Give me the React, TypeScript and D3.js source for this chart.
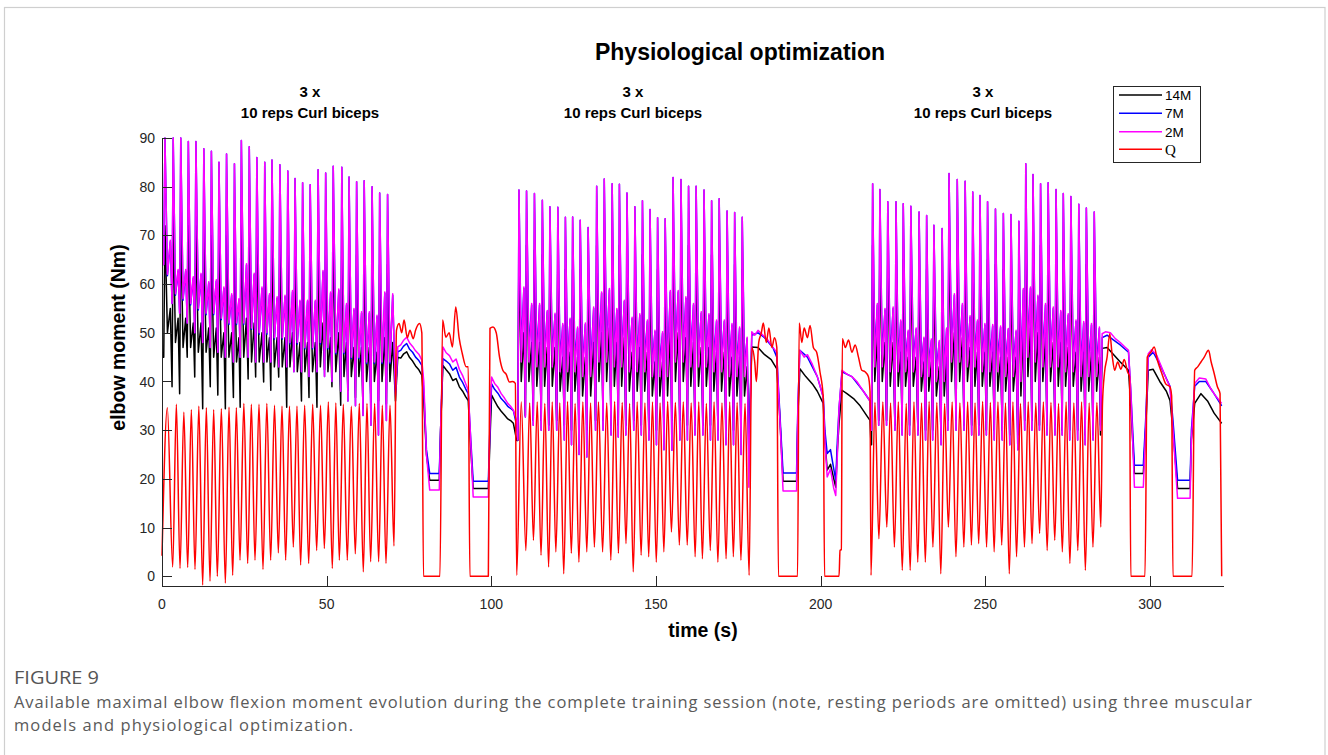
import React from 'react';
import * as d3 from 'd3';

// ---------- axis ticks / labels ----------
const xTicks = [0, 50, 100, 150, 200, 250, 300];
const yTicks = [0, 10, 20, 30, 40, 50, 60, 70, 80, 90];
const legendLabels = ['14M', '7M', '2M', 'Q'];
const setLabels = ['3 x', '10 reps Curl biceps'];
const setCenters = [310, 633, 983]; // annotation anchors (px)

// ---------- block 1 (reps) ----------
const b1T = [0.9, 3.4, 5.7, 8.0, 10.3, 12.7, 15.0, 17.3, 19.6, 22.0, 24.1, 26.5, 28.8, 31.2, 33.4, 35.8, 38.2, 40.4, 42.7, 45.0, 47.4, 49.7, 52.0, 54.6, 56.8, 59.1, 61.4, 63.8, 66.1, 68.5];
const b1_2M_low = [64, 56, 54, 52, 50, 48, 47, 46, 45, 44, 45, 45, 44, 44, 44, 43, 43, 42, 42, 41, 42, 41, 40, 38, 36, 35, 33, 31, 29, 32];
const b1_2M_peak = [90, 90, 90, 89.3, 89.3, 87.8, 87.3, 85, 86.7, 84.7, 89.5, 88.2, 86, 85, 85.5, 84.5, 83.2, 81.7, 80.8, 80.4, 83.5, 82.8, 84.2, 84, 82, 81, 81.2, 80, 78.7, 78.4];
const b1_2M_mid = [62, 58, 57, 56, 55, 54, 54, 53, 52, 52, 52, 51, 50, 50, 49, 49, 48, 48, 47, 47, 48, 47, 46, 46, 45, 45, 44, 44, 44, 44];
const b1_2M_sec = [69, 63, 63, 61.5, 62.2, 60.5, 60.9, 59.4, 58, 57, 64.2, 62.2, 59.4, 58, 57.4, 57.7, 58.7, 56.7, 56.7, 56.7, 62.8, 58.4, 59, 56, 55, 54.3, 54.3, 53.6, 58.4, 58];
const b1_7M_low = [64, 56, 54, 52, 50, 48, 47, 46, 45, 44, 45, 45, 44, 44, 44, 43, 43, 42, 42, 41, 42, 41, 40, 38, 36, 35, 33, 31, 29, 32];
const b1_7M_peak = [90, 90, 90, 89.3, 89.3, 87.8, 87.3, 85, 86.7, 84.7, 89.5, 88.2, 86, 85, 85.5, 84.5, 83.2, 81.7, 80.8, 80.4, 83.5, 82.8, 84.2, 84, 82, 81, 81.2, 80, 78.7, 78.4];
const b1_7M_mid = [61.7, 57.7, 56.7, 55.7, 54.7, 53.7, 53.7, 52.7, 51.7, 51.7, 51.7, 50.7, 49.7, 49.7, 48.7, 48.7, 47.7, 47.7, 46.7, 46.7, 47.7, 46.7, 45.7, 45.7, 44.7, 44.7, 43.7, 43.7, 43.7, 43.7];
const b1_7M_sec = [68.7, 62.7, 62.7, 61.2, 61.9, 60.2, 60.6, 59.1, 57.7, 56.7, 63.9, 61.9, 59.1, 57.7, 57.1, 57.4, 58.4, 56.4, 56.4, 56.4, 62.5, 58.1, 58.7, 55.7, 54.7, 54, 54, 53.3, 58.1, 57.7];
const b1_14M_low = [45, 38.9, 37.5, 45, 40.9, 34.4, 38.9, 37.2, 34.4, 36.7, 34.7, 40.5, 40.9, 39.9, 38.2, 40.9, 34.7, 43, 36, 36.7, 34.7, 42.4, 38.9, 35.1, 38.2, 36.7, 34.4, 35.8, 36, 35.4];
const b1_14M_peak = [72, 74, 73, 72, 72, 71, 70, 69, 70, 69, 72, 71, 70, 69, 69, 68, 67, 66, 66, 65, 67, 67, 68, 68, 66, 66, 66, 65, 64, 64];
const b1_14M_mid = [50, 48, 47, 47, 46, 46, 45, 45, 45, 44, 45, 44, 44, 44, 43, 43, 43, 42, 42, 42, 43, 42, 42, 41, 41, 41, 40, 40, 40, 40];
const b1_14M_sec = [55, 53, 53, 52, 52, 51, 51, 50, 50, 49, 53, 52, 50, 49, 49, 49, 50, 48, 48, 48, 52, 49, 50, 48, 47, 47, 47, 46, 49, 48];
const b1QT = [0, 3.25, 5.47, 7.8, 10.02, 12.35, 14.58, 16.8, 19.24, 21.46, 23.69, 26.02, 28.24, 30.67, 33.0, 35.33, 37.55, 39.88, 42.1, 44.54, 46.97, 49.3, 51.72, 53.85, 56.27, 58.7, 61.13, 63.36, 65.79, 68.02, 70.45];
const b1QLow = [4.2, 1.9, 1.6, 1.8, 1.4, -1.8, -1, 0, -1.4, 0.2, 3.3, 2.6, 3.3, 1.4, 3.3, 4.8, 3.3, 6, 2.3, 2.6, 5.3, 5.7, 1.6, 3.3, 3.3, 4.6, 0.9, 3, 3, 2.6, 6.2];
const b1QPeak = [34.6, 35.3, 33.7, 34.2, 34.9, 34.6, 34.2, 34.4, 34.7, 34.6, 35.5, 35.3, 35.3, 35.5, 35.1, 34.9, 34.9, 34.9, 35.1, 35.3, 35.1, 35.8, 35.6, 35.3, 34.9, 35.5, 35.5, 35.5, 35.1, 35.1];

// ---------- block 2 (reps) ----------
const b2T = [108.4, 110.7, 113.1, 115.5, 117.8, 120.2, 122.5, 124.7, 127.0, 129.4, 132.0, 134.3, 136.7, 138.9, 141.2, 143.6, 145.9, 148.2, 150.5, 152.8, 155.2, 157.6, 159.9, 162.2, 164.6, 166.9, 169.2, 171.6, 173.9, 176.2];
const b2_2M_low = [28, 32.7, 31, 30, 30, 30, 28, 27, 25, 24.5, 30, 30, 29, 28.6, 29, 30, 29, 28, 27, 26, 25.9, 28, 28, 29, 29, 28, 28, 27, 27, 25];
const b2_2M_peak = [79.3, 79.1, 78.6, 77.2, 75.9, 75.8, 73.7, 73.8, 73.1, 71.6, 80.1, 81.6, 80.6, 80.5, 78.7, 75.9, 77.1, 75.3, 73.6, 73.4, 81.9, 81.5, 80.1, 80.1, 79.3, 77.1, 77.5, 75, 74.7, 73.7];
const b2_2M_mid = [44, 44, 43, 43, 43, 42, 42, 42, 41, 41, 44, 44, 43, 43, 42, 42, 42, 41, 41, 41, 44, 44, 43, 43, 43, 42, 42, 41, 41, 41];
const b2_2M_sec = [59.4, 56, 56, 54.6, 54, 51.9, 53, 51.2, 52, 55.3, 58.4, 59.1, 55, 56.7, 53.2, 53.9, 52.6, 50.5, 50.2, 58.7, 58.7, 57.4, 56, 54.3, 53.9, 52.6, 52.6, 51.9, 51.2, 49.1];
const b2_7M_low = [28, 32.7, 31, 30, 30, 30, 28, 27, 25, 24.5, 30, 30, 29, 28.6, 29, 30, 29, 28, 27, 26, 25.9, 28, 28, 29, 29, 28, 28, 27, 27, 25];
const b2_7M_peak = [79.3, 79.1, 78.6, 77.2, 75.9, 75.8, 73.7, 73.8, 73.1, 71.6, 80.1, 81.6, 80.6, 80.5, 78.7, 75.9, 77.1, 75.3, 73.6, 73.4, 81.9, 81.5, 80.1, 80.1, 79.3, 77.1, 77.5, 75, 74.7, 73.7];
const b2_7M_mid = [46.5, 46.5, 45.5, 45.5, 45.5, 44.5, 44.5, 44.5, 43.5, 43.5, 46.5, 46.5, 45.5, 45.5, 44.5, 44.5, 44.5, 43.5, 43.5, 43.5, 46.5, 46.5, 45.5, 45.5, 45.5, 44.5, 44.5, 43.5, 43.5, 43.5];
const b2_7M_sec = [59.1, 55.7, 55.7, 54.3, 53.7, 51.6, 52.7, 50.9, 51.7, 55, 58.1, 58.8, 54.7, 56.4, 52.9, 53.6, 52.3, 50.2, 49.9, 58.4, 58.4, 57.1, 55.7, 54, 53.6, 52.3, 52.3, 51.6, 50.9, 48.8];
const b2_14M_low = [27.9, 33, 32, 32, 31, 32, 31, 30, 30, 30, 32, 32, 31, 31, 31, 32, 31, 30, 30, 30, 32, 32, 31, 31, 31, 31, 30, 30, 30, 29];
const b2_14M_peak = [68, 68, 67, 66, 65, 65, 63, 63, 63, 62, 68, 69, 68, 68, 67, 65, 66, 64, 63, 63, 69, 69, 68, 68, 67, 66, 66, 64, 64, 63];
const b2_14M_mid = [40, 40, 39, 39, 39, 38, 38, 38, 37, 37, 40, 40, 39, 39, 38, 38, 38, 37, 37, 37, 40, 40, 39, 39, 39, 38, 38, 37, 37, 37];
const b2_14M_sec = [50, 48, 48, 47, 47, 45, 46, 45, 45, 48, 50, 51, 48, 49, 46, 47, 46, 44, 44, 50, 50, 49, 48, 47, 47, 46, 46, 45, 45, 43];
const b2QT = [107.7, 110.5, 112.8, 115.1, 117.4, 119.6, 122.0, 124.3, 126.6, 129.0, 131.3, 133.8, 136.3, 138.6, 140.9, 143.1, 145.5, 147.8, 150.1, 152.4, 154.7, 157.1, 159.5, 161.9, 164.1, 166.5, 168.8, 171.3, 173.5, 175.8, 178.3];
const b2QLow = [0.2, 5.3, 7.4, 4.3, 1.9, 5, 0.5, 4.7, 2.9, 5, 6, 5, 3.3, 4.7, 6.7, 0.9, 4.3, 4, 2.9, 5, 9.1, 6.4, 6.4, 4, 3.6, 5.3, 2.9, 3.6, 4, 3.3, 0.2];
const b2QPeak = [35.8, 35.6, 35.8, 35.5, 35.8, 35.6, 35.9, 35.5, 35.8, 35.6, 35.8, 35.6, 35.9, 35.7, 35.5, 35.8, 35.6, 35.8, 35.6, 35.9, 35.7, 35.8, 35.6, 35.8, 35.5, 35.8, 35.6, 35.8, 35.7, 35.5];

// ---------- block 3 (reps) ----------
const b3T = [215.8, 218.0, 220.4, 222.9, 225.1, 227.4, 229.9, 232.2, 234.4, 236.9, 239.0, 241.5, 243.9, 246.2, 248.4, 250.7, 253.1, 255.5, 257.8, 260.2, 262.3, 264.5, 266.8, 269.1, 271.5, 273.7, 276.0, 278.4, 280.7, 283.1];
const b3_2M_low = [30, 31, 31, 30, 29, 29, 29, 28, 28, 27, 30, 30, 30, 29, 29, 29, 28, 28, 27, 26, 30, 30, 30, 29, 29, 29, 28, 28, 27, 28];
const b3_2M_peak = [80.6, 79.4, 76.9, 76.9, 76.5, 76.0, 74.8, 74.1, 72.1, 71.4, 82.7, 81.5, 81.1, 78.9, 78.2, 76.9, 75.4, 74.5, 74.3, 72.9, 84.7, 82.5, 80.6, 80.8, 79.4, 78.6, 78.0, 76.4, 75.6, 74.8];
const b3_2M_mid = [43, 43, 42, 42, 42, 42, 41, 41, 40, 40, 44, 44, 43, 43, 42, 42, 42, 41, 41, 40, 45, 44, 43, 43, 43, 42, 42, 41, 41, 41];
const b3_2M_sec = [56, 55, 55.3, 52.6, 50.5, 51, 49.1, 48.7, 48.4, 51, 58, 56, 53.5, 52.6, 51.9, 51.7, 51.4, 50.9, 50.5, 59.1, 59.4, 57.7, 56, 55.3, 54.6, 53.9, 52.6, 52.3, 51.9, 51.2];
const b3_7M_low = [30, 31, 31, 30, 29, 29, 29, 28, 28, 27, 30, 30, 30, 29, 29, 29, 28, 28, 27, 26, 30, 30, 30, 29, 29, 29, 28, 28, 27, 28];
const b3_7M_peak = [80.6, 79.4, 76.9, 76.9, 76.5, 76.0, 74.8, 74.1, 72.1, 71.4, 82.7, 81.5, 81.1, 78.9, 78.2, 76.9, 75.4, 74.5, 74.3, 72.9, 84.7, 82.5, 80.6, 80.8, 79.4, 78.6, 78.0, 76.4, 75.6, 74.8];
const b3_7M_mid = [45.5, 45.5, 44.5, 44.5, 44.5, 44.5, 43.5, 43.5, 42.5, 42.5, 46.5, 46.5, 45.5, 45.5, 44.5, 44.5, 44.5, 43.5, 43.5, 42.5, 47.5, 46.5, 45.5, 45.5, 45.5, 44.5, 44.5, 43.5, 43.5, 43.5];
const b3_7M_sec = [55.7, 54.7, 55, 52.3, 50.2, 50.7, 48.8, 48.4, 48.1, 50.7, 57.7, 55.7, 53.2, 52.3, 51.6, 51.4, 51.1, 50.6, 50.2, 58.8, 59.1, 57.4, 55.7, 55, 54.3, 53.6, 52.3, 52, 51.6, 50.9];
const b3_14M_low = [27, 32, 32, 31, 31, 31, 30, 30, 30, 29, 32, 32, 31, 31, 31, 30, 30, 30, 29, 29, 32, 32, 31, 31, 31, 30, 30, 30, 29, 29];
const b3_14M_peak = [68, 67, 65, 65, 65, 64, 63, 63, 61, 61, 70, 69, 69, 67, 66, 65, 64, 63, 63, 62, 72, 70, 68, 69, 67, 67, 66, 65, 64, 64];
const b3_14M_mid = [40, 40, 39, 39, 39, 39, 38, 38, 37, 37, 40, 40, 40, 39, 39, 39, 38, 38, 38, 37, 41, 40, 40, 40, 39, 39, 39, 38, 38, 38];
const b3_14M_sec = [49, 48, 48, 46, 45, 45, 44, 44, 43, 45, 50, 49, 47, 46, 46, 46, 45, 45, 45, 51, 51, 50, 49, 48, 48, 47, 46, 46, 46, 45];
const b3QT = [215.3, 217.7, 220.1, 222.4, 224.8, 227.2, 229.5, 231.8, 234.1, 236.5, 238.8, 241.1, 243.5, 245.8, 248.0, 250.4, 252.7, 255.0, 257.3, 259.5, 261.9, 264.2, 266.5, 268.8, 271.1, 273.4, 275.7, 278.1, 280.4, 282.7, 285.1];
const b3QLow = [0.2, 7.7, 10.1, 6, 1.2, 1.2, 2.9, 2.9, 6, 0.5, 10.1, 4, 6, 6.4, 6.7, 6, 5, 6.4, 0.5, 4, 6, 6.7, 8.8, 5.3, 7.4, 5, 2.6, 5.3, 1.2, 6, 10.1];
const b3QPeak = [35.7, 35.8, 35.6, 35.8, 35.5, 35.8, 35.6, 35.9, 35.7, 35.5, 35.8, 35.6, 35.8, 35.6, 35.9, 35.7, 35.8, 35.6, 35.8, 35.5, 35.8, 35.6, 35.8, 35.7, 35.5, 35.8, 35.6, 35.8, 35.6, 35.7];

// ---------- session start ----------
const pre_2M = [[0, 64]];
const pre_7M = [[0, 64]];
const pre_14M = [[0, 45]];

// ---------- transitions between sets [t, value] ----------
const tr1_2M = [[70.9, 37.2], [71.6, 47.1], [72.5, 47.5], [73.3, 48.4], [74.3, 49.1], [75.2, 47.9], [76.1, 47.2], [77, 46.3], [78, 45.6], [78.9, 44.4], [79.5, 40], [80.3, 25], [81.3, 17.7], [84.2, 17.7], [84.6, 30], [85.3, 47.1], [86.3, 45.9], [87.3, 45.3], [88.3, 44], [89.3, 44.6], [90.3, 42.5], [91.3, 41.2], [92.2, 39.6], [93, 38.2], [93.6, 30], [94.5, 16.3], [99.1, 16.3], [99.7, 35], [100.1, 40.9], [101, 39.6], [102, 38.8], [103, 37.5], [104, 36.6], [105, 35.5], [106, 34.8], [106.7, 34.1], [107.7, 32]];
const tr1_7M = [[70.9, 38], [71.6, 46.1], [72.5, 46.4], [73.3, 47.2], [74.3, 47.8], [75.2, 46.6], [76.1, 46], [77, 45], [78, 44.3], [78.9, 43.3], [79.5, 38], [80.3, 26], [81.3, 21.1], [84.2, 21.1], [84.6, 30], [85.3, 44.7], [86.3, 44.2], [87.3, 43.6], [88.3, 42.3], [89.3, 42.9], [90.3, 40.9], [91.3, 39.8], [92.2, 38.5], [93, 37.5], [93.6, 30], [94.5, 19.5], [99.1, 19.5], [99.7, 33], [100.1, 39.5], [101, 38.4], [102, 37.6], [103, 36.5], [104, 35.8], [105, 34.9], [106, 34.4], [106.7, 34], [107.7, 31]];
const tr1_14M = [[70.9, 36], [71.6, 45], [72.5, 44.8], [73.3, 45.6], [74.3, 46.1], [75.2, 44.9], [76.1, 44.2], [77, 43.2], [78, 42.4], [78.9, 41.3], [79.5, 36], [80.3, 25], [81.3, 19.7], [84.2, 19.7], [84.6, 30], [85.3, 43.3], [86.3, 42.4], [87.3, 41.6], [88.3, 40.2], [89.3, 40.6], [90.3, 38.9], [91.3, 38], [92.2, 36.9], [93, 36.1], [93.6, 28], [94.5, 18], [99.1, 18], [99.7, 30], [100.1, 37.2], [101, 36], [102, 34.8], [103, 33.9], [104, 33.1], [105, 32.3], [106, 31.9], [106.7, 31.4], [107.7, 27.9]];
const tr1_Q = [[71.2, 50.5], [72, 51.9], [72.8, 50], [73.5, 52.6], [74.5, 49], [75.3, 50.5], [76.3, 48.8], [77, 50.5], [78.2, 51.9], [78.9, 50], [79.4, 0], [84.4, 0], [85.2, 52.6], [86.2, 49.1], [87.2, 50], [88.2, 47.1], [89.2, 55.3], [90.2, 49.1], [91.2, 45.7], [92.4, 43], [93.0, 43], [93.5, 0], [99.1, 0], [99.6, 50.9], [100.5, 51.2], [101.5, 50], [102.5, 45], [103.5, 42.3], [104.5, 41.5], [105.5, 39.9], [106.5, 40], [107.3, 39.6]];

const tr2_2M = [[178.2, 18.3], [179.1, 50.2], [180, 49.5], [181, 50.5], [182.5, 49.5], [184, 48.5], [185.5, 47], [186.7, 46], [187.2, 38], [187.8, 30], [188.6, 17.5], [192.7, 17.5], [193.1, 35], [193.7, 46.4], [195, 45], [196, 45.5], [197.5, 43.5], [199, 41], [200.8, 36.8], [201.3, 28], [202, 20.4], [203, 22], [204, 18], [204.6, 16.6], [205.1, 25], [205.6, 34.5], [206.5, 42.3], [208, 41.5], [209.5, 41], [211, 40], [213, 38], [215, 36], [215.3, 30]];
const tr2_7M = [[178.2, 24], [179.1, 49.5], [181, 50], [183, 49], [185.5, 47], [186.7, 45], [187.5, 35], [188.6, 21.2], [192.7, 21.2], [193.1, 35], [193.7, 46.4], [196, 45], [199, 41], [200.8, 36.8], [201.3, 30], [202, 25.2], [203, 26], [204, 22], [204.6, 19.7], [205.1, 28], [205.6, 34.5], [206.5, 42], [209.5, 41], [213, 38], [215, 36], [215.3, 30]];
const tr2_14M = [[178.2, 26], [179.1, 47.1], [181, 47], [183, 45.5], [185, 44.5], [186.7, 42.6], [187.5, 34], [188.6, 19.5], [192.7, 19.5], [193.1, 33], [193.7, 42.6], [195.5, 41], [197.5, 39.5], [199, 38], [200.8, 35.5], [201.3, 28], [202, 21.8], [203, 23], [204, 20], [204.6, 18.3], [205.1, 26], [205.6, 31.4], [206.5, 38.2], [208, 37.5], [210, 36.5], [212, 35], [214, 33], [215, 32], [215.3, 27]];
const tr2_Q = [[179.1, 47], [180, 44], [180.5, 40], [181.2, 48], [182, 50], [182.6, 52], [183.5, 48], [184.3, 51], [185.2, 47], [186, 49], [186.7, 47], [187.2, 0], [193, 0], [193.5, 52], [194.3, 48], [195, 51], [196, 49], [196.8, 51.5], [197.8, 47], [198.8, 46], [199.8, 42], [200.8, 36.8], [201.2, 0], [205.6, 0], [205.9, 5.3], [206.3, 5.5], [206.6, 48.8], [207.5, 47], [208.5, 48.5], [209.5, 46], [210.5, 47.5], [211.5, 45], [212.5, 42.3], [213.5, 42], [214.5, 41], [215.0, 38]];

const tr3_2M = [[285.0, 30], [285.5, 49.8], [286.5, 50.2], [288, 50], [289.5, 48.8], [291, 48], [292.5, 47], [293.5, 46.4], [294.2, 38], [295.3, 18.3], [298, 18.3], [298.7, 30], [299.5, 45.7], [300.5, 46.5], [302, 45.5], [303.5, 43], [305, 40.5], [306.1, 38.9], [307, 30], [308.4, 16], [312.2, 16], [312.6, 28], [313.6, 39.6], [315, 40.7], [317, 40.5], [318.5, 38.5], [320, 37], [321.8, 35.5]];
const tr3_7M = [[285.0, 31], [285.5, 49], [287, 49.5], [289, 48.5], [291, 47.5], [293.5, 46], [294.2, 38], [295.3, 22.8], [298, 22.8], [298.7, 32], [299.5, 45], [301, 46], [303, 43.5], [306.1, 39], [307, 32], [308.4, 19.7], [312.2, 19.7], [312.6, 30], [313.6, 39], [315, 40], [317, 40], [319, 38], [321.8, 35]];
const tr3_14M = [[285.0, 29], [285.5, 46.8], [287, 47], [289, 45.5], [291, 44], [293.5, 42.3], [294.2, 35], [295.3, 21.1], [298, 21.1], [298.7, 30], [299.5, 42.3], [301, 42.5], [303, 40], [305, 38], [306.1, 36.1], [307, 30], [308.4, 18], [312.2, 18], [312.6, 28], [313.6, 35.5], [315.5, 37.5], [317.5, 36], [319.5, 33.5], [321.8, 31.4]];
const tr3_Q = [[285.6, 35.5], [286.2, 41.7], [287, 45], [287.8, 49.8], [288.6, 45], [289.3, 42.3], [290.2, 44], [291.2, 42.5], [292.2, 44.5], [293.2, 42], [293.8, 41], [294.2, 0], [298.5, 0], [299.2, 45], [300.3, 46], [301.3, 47.1], [302.3, 44.3], [303.6, 41.7], [304.8, 39.5], [306.1, 38.9], [306.6, 37], [307, 0], [312.8, 0], [313.6, 42.3], [314.5, 43], [315.5, 44], [316.5, 45], [317.8, 46.4], [318.6, 44], [319.5, 41.7], [320.5, 38.9], [321.3, 37.5], [321.8, 0]];

// ---------- helpers ----------
type Pt = [number, number];

function repPoints(times: number[], low: number[], peak: number[], mid: number[], sec: number[]): Pt[] {
  const pts: Pt[] = [];
  for (let i = 0; i < times.length; i++) {
    const T = times[i];
    const P = i < times.length - 1 ? times[i + 1] - T : T - times[i - 1];
    pts.push([T - 0.15 * P, low[i]], [T, peak[i]], [T + 0.3 * P, mid[i]], [T + 0.65 * P, sec[i]]);
  }
  return pts;
}

function qPoints(tt: number[], lows: number[], peaks: number[]): Pt[] {
  const pts: Pt[] = [];
  for (let i = 0; i < tt.length; i++) {
    pts.push([tt[i], lows[i]]);
    if (i < peaks.length) pts.push([(tt[i] + tt[i + 1]) / 2, peaks[i]]);
  }
  return pts;
}

const s14M: Pt[] = [
  ...(pre_14M as Pt[]),
  ...repPoints(b1T, b1_14M_low, b1_14M_peak, b1_14M_mid, b1_14M_sec),
  ...(tr1_14M as Pt[]),
  ...repPoints(b2T, b2_14M_low, b2_14M_peak, b2_14M_mid, b2_14M_sec),
  ...(tr2_14M as Pt[]),
  ...repPoints(b3T, b3_14M_low, b3_14M_peak, b3_14M_mid, b3_14M_sec),
  ...(tr3_14M as Pt[]),
];
const s7M: Pt[] = [
  ...(pre_7M as Pt[]),
  ...repPoints(b1T, b1_7M_low, b1_7M_peak, b1_7M_mid, b1_7M_sec),
  ...(tr1_7M as Pt[]),
  ...repPoints(b2T, b2_7M_low, b2_7M_peak, b2_7M_mid, b2_7M_sec),
  ...(tr2_7M as Pt[]),
  ...repPoints(b3T, b3_7M_low, b3_7M_peak, b3_7M_mid, b3_7M_sec),
  ...(tr3_7M as Pt[]),
];
const s2M: Pt[] = [
  ...(pre_2M as Pt[]),
  ...repPoints(b1T, b1_2M_low, b1_2M_peak, b1_2M_mid, b1_2M_sec),
  ...(tr1_2M as Pt[]),
  ...repPoints(b2T, b2_2M_low, b2_2M_peak, b2_2M_mid, b2_2M_sec),
  ...(tr2_2M as Pt[]),
  ...repPoints(b3T, b3_2M_low, b3_2M_peak, b3_2M_mid, b3_2M_sec),
  ...(tr3_2M as Pt[]),
];
const sQ: Pt[] = [
  ...qPoints(b1QT, b1QLow, b1QPeak),
  ...(tr1_Q as Pt[]),
  ...qPoints(b2QT, b2QLow, b2QPeak),
  ...(tr2_Q as Pt[]),
  ...qPoints(b3QT, b3QLow, b3QPeak),
  ...(tr3_Q as Pt[]),
];

const seriesList = [
  { name: legendLabels[0], data: s14M, color: '#000000', smooth: false },
  { name: legendLabels[1], data: s7M, color: '#0000ff', smooth: false },
  { name: legendLabels[2], data: s2M, color: '#ff00ff', smooth: false },
  { name: legendLabels[3], data: sQ, color: '#ff0000', smooth: true },
];

const AX = '#262626';
const SANS = '"Liberation Sans", Arial, Helvetica, sans-serif';
const CAP = '"Open Sans", "Noto Sans", sans-serif';

export default function App() {
  const x = d3.scaleLinear().domain([0, 322.5]).range([162, 1224]);
  const y = d3.scaleLinear().domain([-2, 90]).range([586, 138]);
  const [x0, x1] = x.range();
  const [yb, yt] = y.range();

  const lineLin = d3.line<Pt>().x((d) => x(d[0])).y((d) => y(d[1]));
  const lineSmooth = d3.line<Pt>().x((d) => x(d[0])).y((d) => y(d[1])).curve(d3.curveMonotoneX);

  const legendRows = [95, 113.3, 131.7, 149.3];

  return (
    <svg width={1328} height={755} style={{ position: 'absolute', left: 0, top: 0, background: '#fff' }}>
      <rect x={0} y={0} width={1328} height={755} fill="#ffffff" />
      <rect x={4.5} y={7.5} width={1320.5} height={800} fill="none" stroke="#cfcfcf" strokeWidth={1.2} />
      <defs>
        <clipPath id="plotclip">
          <rect x={x0 - 1} y={yt - 1} width={x1 - x0 + 2} height={yb - yt + 2} />
        </clipPath>
      </defs>

      {/* title */}
      <text x={740} y={60} textAnchor="middle" fontFamily={SANS} fontWeight="bold" fontSize={23} fill="#000">
        Physiological optimization
      </text>

      {/* set annotations */}
      {setCenters.map((cx, i) => (
        <g key={i} fontFamily={SANS} fontWeight="bold" fontSize={15} fill="#000" textAnchor="middle">
          <text x={cx} y={97}>{setLabels[0]}</text>
          <text x={cx} y={118}>{setLabels[1]}</text>
        </g>
      ))}

      {/* series */}
      <g clipPath="url(#plotclip)">
        {seriesList.map((s) => (
          <path
            key={s.name}
            d={(s.smooth ? lineSmooth : lineLin)(s.data) || ''}
            fill="none"
            stroke={s.color}
            strokeWidth={1.5}
            strokeLinejoin="round"
          />
        ))}
      </g>

      {/* axes */}
      <g stroke={AX} strokeWidth={1}>
        <line x1={x0} y1={yb + 0.5} x2={x1} y2={yb + 0.5} />
        <line x1={x0 + 0.5} y1={yb} x2={x0 + 0.5} y2={yt} />
        {xTicks.map((t) => (
          <line key={'xt' + t} x1={Math.round(x(t)) + 0.5} x2={Math.round(x(t)) + 0.5} y1={yb} y2={yb - 10} />
        ))}
        {yTicks.map((t) => (
          <line key={'yt' + t} x1={x0} x2={x0 + 10} y1={Math.round(y(t)) + 0.5} y2={Math.round(y(t)) + 0.5} />
        ))}
      </g>
      <g fontFamily={SANS} fontSize={14} fill={AX}>
        {xTicks.map((t) => (
          <text key={'xl' + t} x={x(t)} y={609} textAnchor="middle">{t}</text>
        ))}
        {yTicks.map((t) => (
          <text key={'yl' + t} x={155} y={y(t)} dy="0.36em" textAnchor="end">{t}</text>
        ))}
      </g>

      {/* axis labels */}
      <text x={703} y={637} textAnchor="middle" fontFamily={SANS} fontWeight="bold" fontSize={19.5} fill="#000">
        time (s)
      </text>
      <text
        transform="translate(125,337.5) rotate(-90)"
        textAnchor="middle"
        fontFamily={SANS}
        fontWeight="bold"
        fontSize={19.5}
        fill="#000"
      >
        elbow moment (Nm)
      </text>

      {/* legend */}
      <rect x={1113.5} y={86.5} width={87} height={76} fill="#fff" stroke={AX} strokeWidth={1} />
      {seriesList.map((s, i) => (
        <g key={'lg' + s.name}>
          <line x1={1119} x2={1162} y1={legendRows[i]} y2={legendRows[i]} stroke={s.color} strokeWidth={1.5} />
          <text
            x={1165}
            y={legendRows[i]}
            dy="0.36em"
            fontFamily={s.name === 'Q' ? '"Liberation Serif", "Times New Roman", serif' : SANS}
            fontSize={s.name === 'Q' ? 15 : 13.5}
            fill="#000"
          >
            {s.name}
          </text>
        </g>
      ))}

      {/* caption */}
      <text x={14} y={684} fontFamily={CAP} fontSize={18} fill="#555555" textLength={85} lengthAdjust="spacingAndGlyphs">
        FIGURE 9
      </text>
      <text x={14} y={708} fontFamily={CAP} fontSize={16.5} fill="#5a5a5a" textLength={1238}>
        Available maximal elbow flexion moment evolution during the complete training session (note, resting periods are omitted) using three muscular
      </text>
      <text x={14} y={731} fontFamily={CAP} fontSize={16.5} fill="#5a5a5a" textLength={339}>
        models and physiological optimization.
      </text>
    </svg>
  );
}
